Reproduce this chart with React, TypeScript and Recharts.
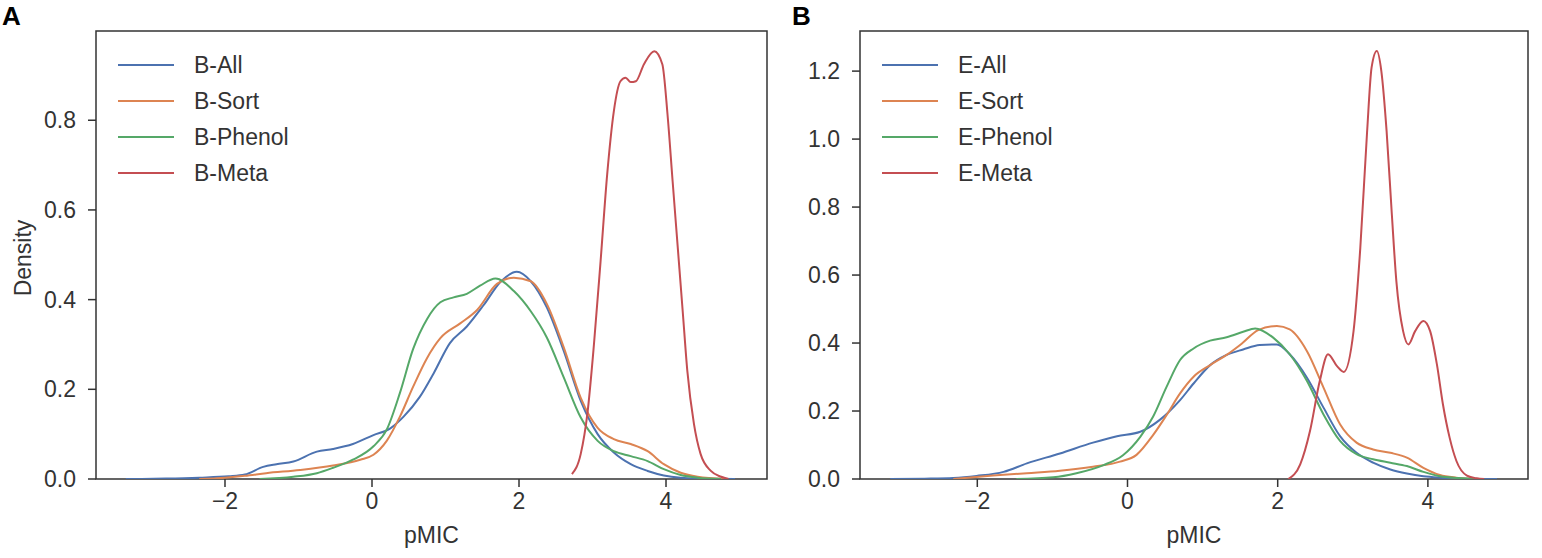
import { LineChart, Line, XAxis, YAxis, ReferenceArea } from 'recharts'

// x ticks shared by both panels
const xTicks = [-2, 0, 2, 4]
const yTicksA = [0, 0.2, 0.4, 0.6, 0.8]
const yTicksB = [0, 0.2, 0.4, 0.6, 0.8, 1.0, 1.2]

const labelsA = ['B-All', 'B-Sort', 'B-Phenol', 'B-Meta']
const labelsB = ['E-All', 'E-Sort', 'E-Phenol', 'E-Meta']
const colors = ['#4c72b0', '#dd8452', '#55a868', '#c44e52']

// panel A: [pMIC, density]
const bAll = [
  [-3.35, 0], [-2.8, 0.001], [-2.35, 0.003], [-1.95, 0.006], [-1.73, 0.01], [-1.48, 0.027],
  [-1.3, 0.033], [-1.07, 0.039], [-0.75, 0.061], [-0.53, 0.067], [-0.26, 0.078], [0.02, 0.098],
  [0.25, 0.113], [0.43, 0.139], [0.65, 0.183], [0.84, 0.236], [1.06, 0.303], [1.29, 0.34],
  [1.52, 0.388], [1.75, 0.44], [1.97, 0.462], [2.16, 0.441], [2.38, 0.382], [2.61, 0.285],
  [2.84, 0.174], [3.07, 0.1], [3.29, 0.059], [3.52, 0.033], [3.75, 0.018], [3.97, 0.008],
  [4.2, 0.003], [4.5, 0.001], [4.94, 0],
]
const bSort = [
  [-2.35, 0], [-2.0, 0.003], [-1.73, 0.007], [-1.44, 0.013], [-0.98, 0.02], [-0.53, 0.03],
  [-0.16, 0.043], [0.02, 0.054], [0.2, 0.085], [0.38, 0.139], [0.56, 0.206], [0.75, 0.27],
  [0.93, 0.314], [1.2, 0.347], [1.43, 0.377], [1.7, 0.435], [1.93, 0.449], [2.16, 0.441],
  [2.38, 0.39], [2.61, 0.293], [2.84, 0.181], [3.07, 0.114], [3.29, 0.089], [3.52, 0.078],
  [3.75, 0.062], [3.97, 0.033], [4.2, 0.014], [4.43, 0.005], [4.8, 0],
]
const bPhenol = [
  [-1.53, 0], [-1.07, 0.005], [-0.75, 0.013], [-0.53, 0.025], [-0.26, 0.043], [0.02, 0.073],
  [0.2, 0.11], [0.38, 0.192], [0.56, 0.29], [0.75, 0.357], [0.93, 0.394], [1.11, 0.405],
  [1.29, 0.413], [1.47, 0.431], [1.68, 0.447], [1.93, 0.419], [2.16, 0.374], [2.38, 0.315],
  [2.61, 0.226], [2.84, 0.137], [3.07, 0.085], [3.29, 0.062], [3.52, 0.051], [3.75, 0.04],
  [3.97, 0.022], [4.2, 0.009], [4.43, 0.003], [4.75, 0],
]
const bMeta = [
  [2.72, 0.011], [2.84, 0.056], [2.93, 0.145], [3.02, 0.301], [3.11, 0.486], [3.2, 0.68],
  [3.29, 0.82], [3.38, 0.887], [3.45, 0.895], [3.52, 0.885], [3.59, 0.887], [3.7, 0.925],
  [3.84, 0.954], [3.95, 0.925], [4.02, 0.814], [4.09, 0.664], [4.16, 0.516], [4.23, 0.368],
  [4.29, 0.241], [4.38, 0.123], [4.47, 0.056], [4.61, 0.018], [4.75, 0.005], [4.85, 0],
]

// panel B
const eAll = [
  [-3.16, 0], [-2.7, 0.001], [-2.32, 0.003], [-2.01, 0.009], [-1.65, 0.021], [-1.34, 0.046],
  [-0.9, 0.075], [-0.46, 0.107], [-0.14, 0.126], [0.17, 0.139], [0.43, 0.174], [0.7, 0.232],
  [0.88, 0.281], [1.1, 0.335], [1.32, 0.365], [1.54, 0.381], [1.76, 0.394], [1.99, 0.396],
  [2.16, 0.367], [2.39, 0.298], [2.61, 0.21], [2.83, 0.126], [3.05, 0.077], [3.27, 0.048],
  [3.5, 0.028], [3.72, 0.016], [3.94, 0.008], [4.16, 0.004], [4.5, 0.001], [4.92, 0],
]
const eSort = [
  [-2.32, 0], [-1.79, 0.01], [-1.34, 0.017], [-0.9, 0.024], [-0.46, 0.036], [-0.1, 0.051],
  [0.12, 0.071], [0.34, 0.129], [0.52, 0.188], [0.7, 0.252], [0.88, 0.301], [1.1, 0.335],
  [1.32, 0.365], [1.52, 0.398], [1.74, 0.438], [1.99, 0.45], [2.16, 0.44], [2.39, 0.376],
  [2.61, 0.269], [2.83, 0.161], [3.05, 0.107], [3.27, 0.087], [3.5, 0.077], [3.72, 0.063],
  [3.94, 0.033], [4.16, 0.012], [4.38, 0.004], [4.65, 0],
]
const ePhenol = [
  [-1.48, 0], [-0.99, 0.005], [-0.68, 0.017], [-0.32, 0.041], [-0.06, 0.07], [0.17, 0.124],
  [0.34, 0.183], [0.52, 0.271], [0.7, 0.35], [0.88, 0.384], [1.1, 0.407], [1.32, 0.417],
  [1.54, 0.433], [1.7, 0.443], [1.94, 0.416], [2.16, 0.367], [2.39, 0.288], [2.61, 0.19],
  [2.83, 0.112], [3.05, 0.073], [3.27, 0.058], [3.5, 0.048], [3.72, 0.038], [3.94, 0.021],
  [4.16, 0.008], [4.4, 0.003], [4.69, 0],
]
const eMeta = [
  [2.14, 0], [2.3, 0.043], [2.43, 0.141], [2.56, 0.288], [2.67, 0.367], [2.79, 0.332],
  [2.88, 0.315], [3.01, 0.435], [3.1, 0.68], [3.19, 1.02], [3.25, 1.21], [3.32, 1.259],
  [3.38, 1.2], [3.45, 1.024], [3.52, 0.778], [3.58, 0.582], [3.67, 0.435], [3.74, 0.396],
  [3.83, 0.435], [3.94, 0.465], [4.03, 0.435], [4.12, 0.337], [4.2, 0.22], [4.29, 0.121],
  [4.38, 0.053], [4.52, 0.01], [4.65, 0.002], [4.75, 0],
]

const FONT = '"Liberation Sans", Arial, sans-serif'
const INK = '#333333'

const toPts = (arr: number[][]) => arr.map(([x, y]) => ({ x, y }))
const fmtX = (v: number) => (v < 0 ? '\u2212' + Math.abs(v) : String(v))

type PanelProps = {
  left: number
  width: number
  plotLeft: number
  plotRight: number
  xDomain: [number, number]
  yMax: number
  yTicks: number[]
  series: number[][][]
  labels: string[]
  letter: string
  letterX: number
  showYLabel?: boolean
}

function Panel(p: PanelProps) {
  const H = 558
  const top = 31
  const bottom = 479
  const tickStyle = { fontSize: 23, fill: INK, fontFamily: FONT }
  return (
    <div style={{ position: 'absolute', left: p.left, top: 0, width: p.width, height: H }}>
      <LineChart
        width={p.width}
        height={H}
        margin={{ top, right: p.width - p.plotRight, bottom: 0, left: 0 }}
      >
        <XAxis
          dataKey='x'
          type='number'
          domain={p.xDomain}
          allowDataOverflow
          ticks={xTicks}
          tickFormatter={fmtX}
          height={H - bottom}
          axisLine={false}
          tickLine={{ stroke: INK, strokeWidth: 1.5 }}
          tickSize={8}
          tickMargin={6}
          tick={tickStyle}
        />
        <YAxis
          type='number'
          domain={[0, p.yMax]}
          allowDataOverflow
          ticks={p.yTicks}
          tickFormatter={(v: number) => v.toFixed(1)}
          width={p.plotLeft}
          axisLine={false}
          tickLine={{ stroke: INK, strokeWidth: 1.5 }}
          tickSize={8}
          tickMargin={12}
          tick={tickStyle}
        />
        {p.series.map((s, i) => (
          <Line
            key={p.labels[i]}
            data={toPts(s)}
            dataKey='y'
            type='monotone'
            stroke={colors[i]}
            strokeWidth={2}
            dot={false}
            activeDot={false}
            isAnimationActive={false}
          />
        ))}
        <ReferenceArea
          x1={p.xDomain[0]}
          x2={p.xDomain[1]}
          y1={0}
          y2={p.yMax}
          fill='none'
          stroke={INK}
          strokeWidth={1.5}
          fillOpacity={0}
        />
      </LineChart>

      {/* legend */}
      <div style={{ position: 'absolute', left: p.plotLeft + 22, top: 47 }}>
        {p.labels.map((l, i) => (
          <div key={l} style={{ display: 'flex', alignItems: 'center', height: 36 }}>
            <svg width={56} height={4} style={{ marginRight: 20 }}>
              <line x1={0} y1={2} x2={56} y2={2} stroke={colors[i]} strokeWidth={2} />
            </svg>
            <span style={{ fontFamily: FONT, fontSize: 23, color: INK }}>{l}</span>
          </div>
        ))}
      </div>

      <div
        style={{
          position: 'absolute',
          left: (p.plotLeft + p.plotRight) / 2 - 60,
          width: 120,
          top: 522,
          textAlign: 'center',
          fontFamily: FONT,
          fontSize: 23,
          color: INK,
        }}
      >
        pMIC
      </div>

      {p.showYLabel && (
        <div
          style={{
            position: 'absolute',
            left: 23 - 60,
            top: 258 - 14,
            width: 120,
            height: 28,
            lineHeight: '28px',
            textAlign: 'center',
            transform: 'rotate(-90deg)',
            fontFamily: FONT,
            fontSize: 23,
            color: INK,
          }}
        >
          Density
        </div>
      )}

      <div
        style={{
          position: 'absolute',
          left: p.letterX,
          top: 1,
          fontFamily: FONT,
          fontWeight: 'bold',
          fontSize: 26,
          color: '#000',
        }}
      >
        {p.letter}
      </div>
    </div>
  )
}

export default function App() {
  return (
    <div style={{ position: 'absolute', left: 0, top: 0, width: 1542, height: 558, background: '#fff' }}>
      <Panel
        left={0}
        width={790}
        plotLeft={96}
        plotRight={767}
        xDomain={[-3.755, 5.374]}
        yMax={0.999}
        yTicks={yTicksA}
        series={[bAll, bSort, bPhenol, bMeta]}
        labels={labelsA}
        letter='A'
        letterX={2}
        showYLabel
      />
      <Panel
        left={790}
        width={752}
        plotLeft={70}
        plotRight={738}
        xDomain={[-3.562, 5.333]}
        yMax={1.318}
        yTicks={yTicksB}
        series={[eAll, eSort, ePhenol, eMeta]}
        labels={labelsB}
        letter='B'
        letterX={2}
      />
    </div>
  )
}
